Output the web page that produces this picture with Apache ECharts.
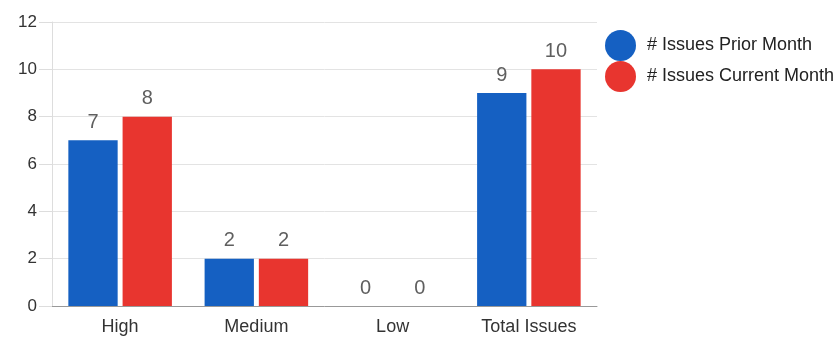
<!DOCTYPE html>
<html><head><meta charset="utf-8">
<script src="https://cdn.jsdelivr.net/npm/echarts@6/dist/echarts.min.js"></script>
<style>html,body{margin:0;padding:0;background:#fff}#c{width:840px;height:338px}</style>
</head><body><div id="c"></div>
<script>
var categories = ['High', 'Medium', 'Low', 'Total Issues'];
var priorMonth = [7, 2, 0, 9];
var currentMonth = [8, 2, 0, 10];
var seriesNames = ['# Issues Prior Month', '# Issues Current Month'];

var FONT = 'Arial, "Liberation Sans", sans-serif';
var chart = echarts.init(document.getElementById('c'));
var labelStyle = {show: true, position: 'top', distance: 8, color: '#5f5f5f', fontSize: 20, fontFamily: FONT};
chart.setOption({
  animation: false,
  grid: {left: 52, right: 243, top: 22, bottom: 32, containLabel: false},
  legend: {
    orient: 'vertical', left: 605, top: 30, padding: 0, icon: 'circle',
    itemWidth: 31, itemHeight: 31, itemGap: 0,
    textStyle: {fontSize: 18, color: '#222', fontFamily: FONT, padding: [0, 0, 0, 6]},
    data: seriesNames
  },
  xAxis: {
    type: 'category', data: categories,
    axisLine: {lineStyle: {color: '#999', width: 1}},
    axisTick: {show: false},
    axisLabel: {fontSize: 18, color: '#333', margin: 12, fontFamily: FONT}
  },
  yAxis: {
    type: 'value', min: 0, max: 12, interval: 2,
    axisLine: {show: true, lineStyle: {color: '#ddd'}},
    axisTick: {show: true, length: 13, lineStyle: {color: '#ddd'}},
    splitLine: {lineStyle: {color: '#e3e3e3'}},
    axisLabel: {fontSize: 17, color: '#333', margin: 15, fontFamily: FONT}
  },
  series: [
    {name: seriesNames[0], type: 'bar', data: priorMonth, barGap: '10%', barCategoryGap: '24%',
     itemStyle: {color: '#1560C2'}, label: labelStyle},
    {name: seriesNames[1], type: 'bar', data: currentMonth, barGap: '10%', barCategoryGap: '24%',
     itemStyle: {color: '#E8352F'}, label: labelStyle}
  ]
});
</script></body></html>
